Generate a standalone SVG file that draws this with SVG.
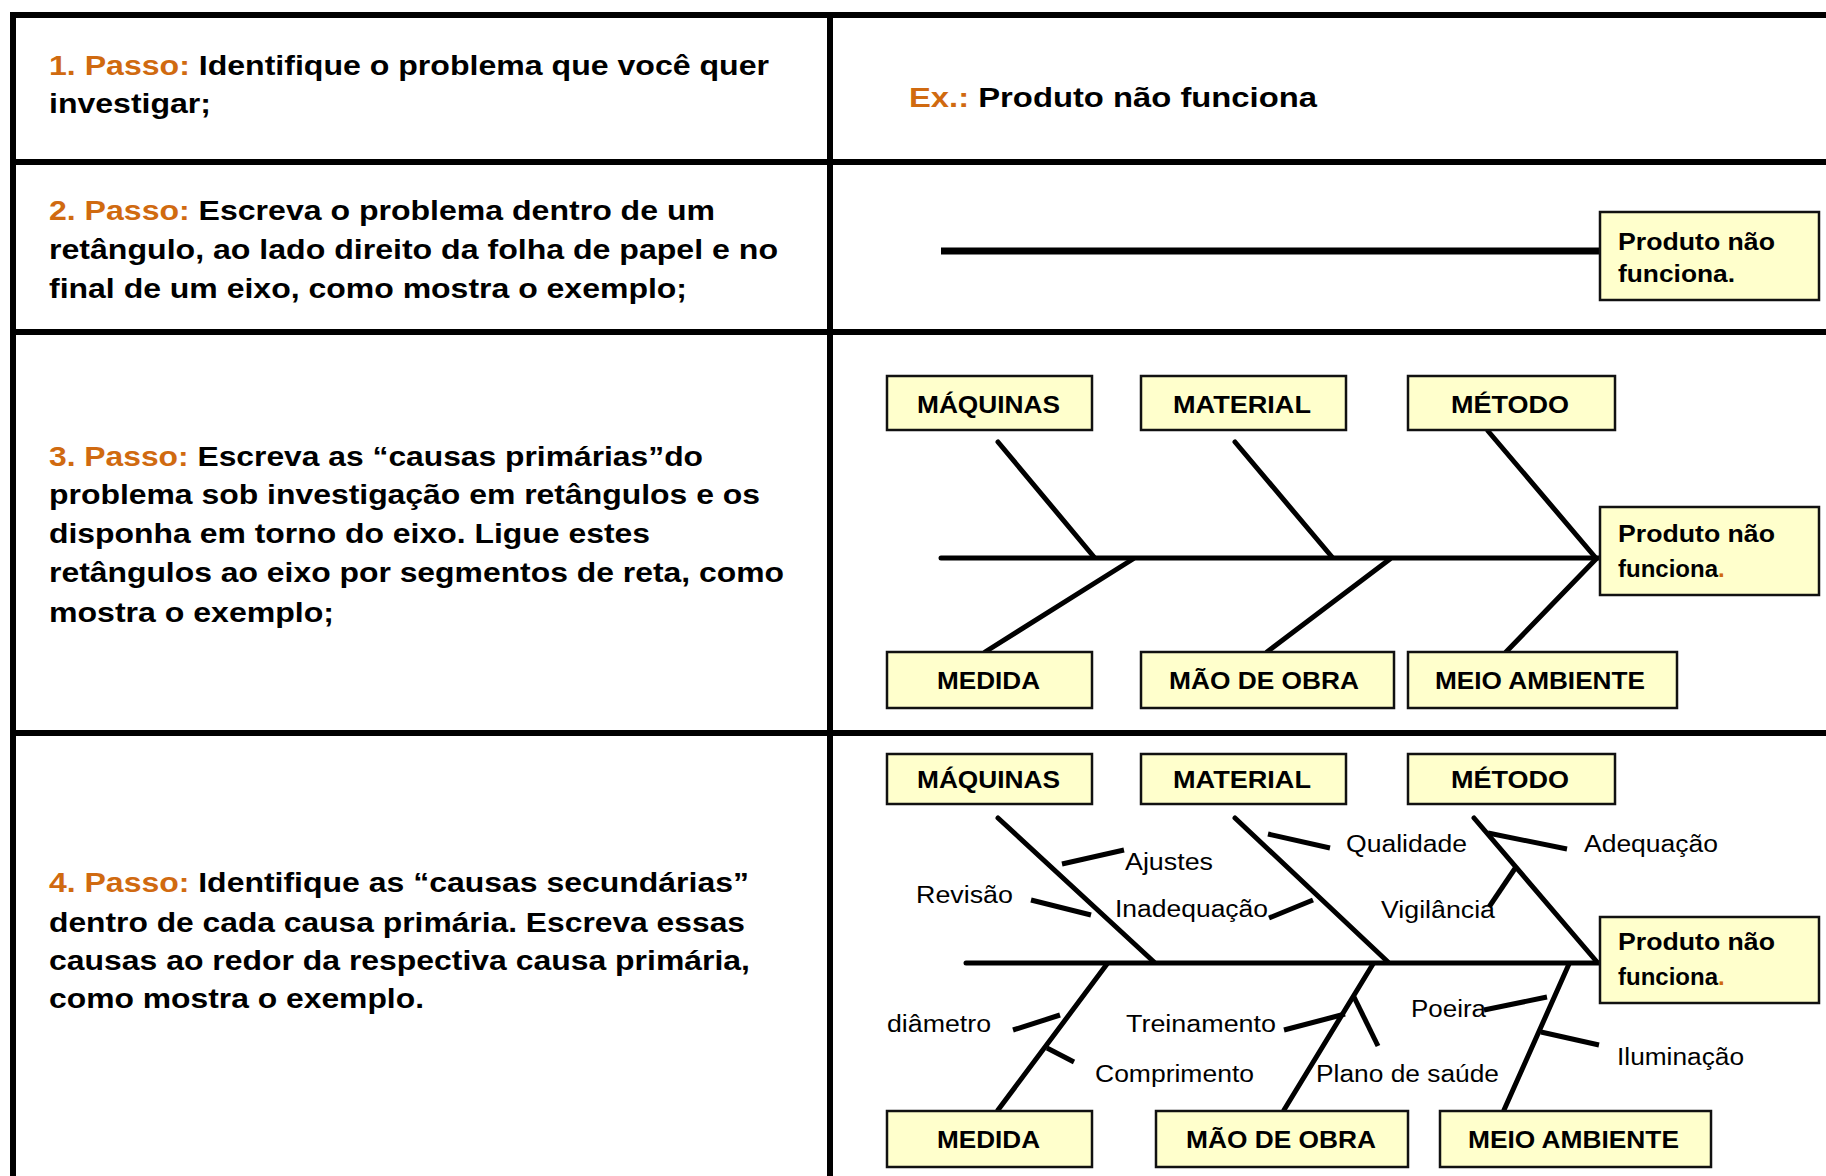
<svg xmlns="http://www.w3.org/2000/svg" width="1826" height="1176" viewBox="0 0 1826 1176">
<style>
.t{font-family:"Liberation Sans",Arial,sans-serif;font-weight:bold;font-size:27px;fill:#000}
.o{fill:#D06A10}
.bl{font-family:"Liberation Sans",Arial,sans-serif;font-weight:bold;font-size:24px;fill:#000}
.ef{font-family:"Liberation Sans",Arial,sans-serif;font-weight:bold;font-size:24px;fill:#000}
.sl{font-family:"Liberation Sans",Arial,sans-serif;font-size:23px;fill:#000}
.box{fill:#FFFFCC;stroke:#111;stroke-width:2.5}
.grid{stroke:#000;stroke-width:6;fill:none}
.bone{stroke:#000;stroke-width:5;stroke-linecap:round;fill:none}
.sub{stroke:#000;stroke-width:5;stroke-linecap:butt;fill:none}
</style>
<rect width="1826" height="1176" fill="#fff"/>
<g id="table">
<line class="grid" x1="10" y1="15" x2="1826" y2="15"/>
<line class="grid" x1="13" y1="12" x2="13" y2="1176"/>
<line class="grid" x1="830" y1="12" x2="830" y2="1176"/>
<line class="grid" x1="10" y1="162" x2="1826" y2="162"/>
<line class="grid" x1="10" y1="332" x2="1826" y2="332"/>
<line class="grid" x1="10" y1="733" x2="1826" y2="733" stroke-width="7"/>
</g>
<g id="step1">
<text class="t" x="49" y="75" textLength="720" lengthAdjust="spacingAndGlyphs"><tspan class="o">1. Passo:</tspan> Identifique o problema que você quer</text>
<text class="t" x="49" y="113" textLength="162" lengthAdjust="spacingAndGlyphs">investigar;</text>
<text class="t" x="909" y="107" textLength="408" lengthAdjust="spacingAndGlyphs"><tspan class="o">Ex.:</tspan> Produto não funciona</text>
</g>
<g id="step2">
<text class="t" x="49" y="220" textLength="666" lengthAdjust="spacingAndGlyphs"><tspan class="o">2. Passo:</tspan> Escreva o problema dentro de um</text>
<text class="t" x="49" y="259" textLength="729" lengthAdjust="spacingAndGlyphs">retângulo, ao lado direito da folha de papel e no</text>
<text class="t" x="49" y="298" textLength="638" lengthAdjust="spacingAndGlyphs">final de um eixo, como mostra o exemplo;</text>
</g>
<g id="step3">
<text class="t" x="49" y="466" textLength="654" lengthAdjust="spacingAndGlyphs"><tspan class="o">3. Passo:</tspan> Escreva as “causas primárias”do</text>
<text class="t" x="49" y="504" textLength="711" lengthAdjust="spacingAndGlyphs">problema sob investigação em retângulos e os</text>
<text class="t" x="49" y="543" textLength="601" lengthAdjust="spacingAndGlyphs">disponha em torno do eixo. Ligue estes</text>
<text class="t" x="49" y="582" textLength="735" lengthAdjust="spacingAndGlyphs">retângulos ao eixo por segmentos de reta, como</text>
<text class="t" x="49" y="622" textLength="285" lengthAdjust="spacingAndGlyphs">mostra o exemplo;</text>
</g>
<g id="step4">
<text class="t" x="49" y="892" textLength="700" lengthAdjust="spacingAndGlyphs"><tspan class="o">4. Passo:</tspan> Identifique as “causas secundárias”</text>
<text class="t" x="49" y="932" textLength="696" lengthAdjust="spacingAndGlyphs">dentro de cada causa primária. Escreva essas</text>
<text class="t" x="49" y="970" textLength="701" lengthAdjust="spacingAndGlyphs">causas ao redor da respectiva causa primária,</text>
<text class="t" x="49" y="1008" textLength="375" lengthAdjust="spacingAndGlyphs">como mostra o exemplo.</text>
</g>
<g id="connectors">
<line x1="941" y1="251" x2="1600" y2="251" stroke="#000" stroke-width="7"/>
<line class="bone" x1="941" y1="558" x2="1600" y2="558"/>
<line class="bone" x1="998" y1="442" x2="1094" y2="557"/>
<line class="bone" x1="1235" y1="442" x2="1332" y2="557"/>
<line class="bone" x1="1488" y1="431" x2="1595" y2="557"/>
<line class="bone" x1="1133" y1="559" x2="985" y2="652"/>
<line class="bone" x1="1390" y1="559" x2="1267" y2="652"/>
<line class="bone" x1="1596" y1="559" x2="1506" y2="652"/>
<line class="bone" x1="966" y1="963" x2="1600" y2="963"/>
<line class="bone" x1="998" y1="818" x2="1154" y2="962"/>
<line class="bone" x1="1235" y1="818" x2="1388" y2="962"/>
<line class="bone" x1="1474" y1="818" x2="1597" y2="962"/>
<line class="bone" x1="1107" y1="964" x2="998" y2="1110"/>
<line class="bone" x1="1373" y1="964" x2="1284" y2="1110"/>
<line class="bone" x1="1569" y1="964" x2="1504" y2="1110"/>
<line class="sub" x1="1062" y1="864" x2="1124" y2="850"/>
<line class="sub" x1="1031" y1="900" x2="1091" y2="915"/>
<line class="sub" x1="1269" y1="918" x2="1313" y2="900"/>
<line class="sub" x1="1268" y1="834" x2="1330" y2="848"/>
<line class="sub" x1="1488" y1="833" x2="1567" y2="849"/>
<line class="sub" x1="1516" y1="867" x2="1489" y2="907"/>
<line class="sub" x1="1013" y1="1030" x2="1060" y2="1015"/>
<line class="sub" x1="1047" y1="1048" x2="1074" y2="1062"/>
<line class="sub" x1="1284" y1="1030" x2="1345" y2="1014"/>
<line class="sub" x1="1354" y1="997" x2="1378" y2="1046"/>
<line class="sub" x1="1484" y1="1010" x2="1547" y2="997"/>
<line class="sub" x1="1541" y1="1032" x2="1599" y2="1045"/>
</g>
<g id="effect2"><rect class="box" x="1600" y="212" width="219" height="88"/>
<text class="ef" x="1618" y="250" textLength="157" lengthAdjust="spacingAndGlyphs">Produto não</text>
<text class="ef" x="1618" y="282" textLength="117" lengthAdjust="spacingAndGlyphs">funciona.</text></g>
<g id="f3-maquinas"><rect class="box" x="887" y="376" width="205" height="54"/><text class="bl" x="917" y="413" textLength="143" lengthAdjust="spacingAndGlyphs">MÁQUINAS</text></g>
<g id="f3-material"><rect class="box" x="1141" y="376" width="205" height="54"/><text class="bl" x="1173" y="413" textLength="138" lengthAdjust="spacingAndGlyphs">MATERIAL</text></g>
<g id="f3-metodo"><rect class="box" x="1408" y="376" width="207" height="54"/><text class="bl" x="1451" y="413" textLength="118" lengthAdjust="spacingAndGlyphs">MÉTODO</text></g>
<g id="f3-medida"><rect class="box" x="887" y="652" width="205" height="56"/><text class="bl" x="937" y="689" textLength="103" lengthAdjust="spacingAndGlyphs">MEDIDA</text></g>
<g id="f3-maodeobra"><rect class="box" x="1141" y="652" width="253" height="56"/><text class="bl" x="1169" y="689" textLength="190" lengthAdjust="spacingAndGlyphs">MÃO DE OBRA</text></g>
<g id="f3-meioambiente"><rect class="box" x="1408" y="652" width="269" height="56"/><text class="bl" x="1435" y="689" textLength="210" lengthAdjust="spacingAndGlyphs">MEIO AMBIENTE</text></g>
<g id="effect3"><rect class="box" x="1600" y="507" width="219" height="88"/>
<text class="ef" x="1618" y="542" textLength="157" lengthAdjust="spacingAndGlyphs">Produto não</text>
<text class="ef" x="1618" y="577">funciona<tspan class="o">.</tspan></text></g>
<g id="f4-maquinas"><rect class="box" x="887" y="754" width="205" height="50"/><text class="bl" x="917" y="788" textLength="143" lengthAdjust="spacingAndGlyphs">MÁQUINAS</text></g>
<g id="f4-material"><rect class="box" x="1141" y="754" width="205" height="50"/><text class="bl" x="1173" y="788" textLength="138" lengthAdjust="spacingAndGlyphs">MATERIAL</text></g>
<g id="f4-metodo"><rect class="box" x="1408" y="754" width="207" height="50"/><text class="bl" x="1451" y="788" textLength="118" lengthAdjust="spacingAndGlyphs">MÉTODO</text></g>
<g id="f4-medida"><rect class="box" x="887" y="1111" width="205" height="56"/><text class="bl" x="937" y="1148" textLength="103" lengthAdjust="spacingAndGlyphs">MEDIDA</text></g>
<g id="f4-maodeobra"><rect class="box" x="1156" y="1111" width="252" height="56"/><text class="bl" x="1186" y="1148" textLength="190" lengthAdjust="spacingAndGlyphs">MÃO DE OBRA</text></g>
<g id="f4-meioambiente"><rect class="box" x="1440" y="1111" width="271" height="56"/><text class="bl" x="1468" y="1148" textLength="211" lengthAdjust="spacingAndGlyphs">MEIO AMBIENTE</text></g>
<g id="effect4"><rect class="box" x="1600" y="917" width="219" height="86"/>
<text class="ef" x="1618" y="950" textLength="157" lengthAdjust="spacingAndGlyphs">Produto não</text>
<text class="ef" x="1618" y="985">funciona<tspan class="o">.</tspan></text></g>
<g id="sublabels">
<text class="sl" x="1125" y="870" textLength="88" lengthAdjust="spacingAndGlyphs">Ajustes</text>
<text class="sl" x="916" y="903" textLength="97" lengthAdjust="spacingAndGlyphs">Revisão</text>
<text class="sl" x="1115" y="917" textLength="153" lengthAdjust="spacingAndGlyphs">Inadequação</text>
<text class="sl" x="1346" y="852" textLength="121" lengthAdjust="spacingAndGlyphs">Qualidade</text>
<text class="sl" x="1584" y="852" textLength="134" lengthAdjust="spacingAndGlyphs">Adequação</text>
<text class="sl" x="1381" y="918" textLength="114" lengthAdjust="spacingAndGlyphs">Vigilância</text>
<text class="sl" x="887" y="1032" textLength="104" lengthAdjust="spacingAndGlyphs">diâmetro</text>
<text class="sl" x="1095" y="1082" textLength="159" lengthAdjust="spacingAndGlyphs">Comprimento</text>
<text class="sl" x="1126" y="1032" textLength="150" lengthAdjust="spacingAndGlyphs">Treinamento</text>
<text class="sl" x="1316" y="1082" textLength="183" lengthAdjust="spacingAndGlyphs">Plano de saúde</text>
<text class="sl" x="1411" y="1017" textLength="75" lengthAdjust="spacingAndGlyphs">Poeira</text>
<text class="sl" x="1617" y="1065" textLength="127" lengthAdjust="spacingAndGlyphs">Iluminação</text>
</g>
</svg>
